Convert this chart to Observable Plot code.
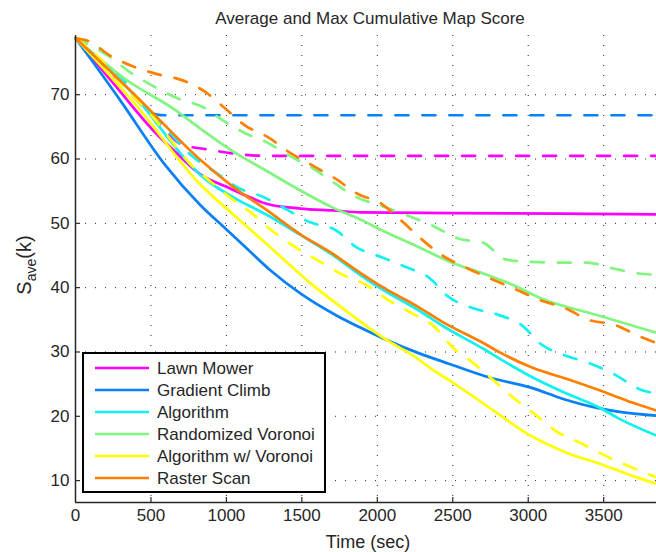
<!DOCTYPE html>
<html><head><meta charset="utf-8">
<script src="https://cdn.jsdelivr.net/npm/d3@7"></script>
<script src="https://cdn.jsdelivr.net/npm/@observablehq/plot@0.6"></script>
<style>
body{margin:0;background:#fff;}
#chart svg{display:block;}
</style></head><body><div id="chart"></div>
<script>
const chartTitle = "Average and Max Cumulative Map Score";
const xLabel = "Time (sec)";
const seriesNames = ["Lawn Mower", "Gradient Climb", "Algorithm", "Randomized Voronoi", "Algorithm w/ Voronoi", "Raster Scan"];
const seriesColors = ["#ff00ff", "#0a80f5", "#12f0f0", "#80f580", "#ffff00", "#ff8000"];
const xTicks = [0, 500, 1000, 1500, 2000, 2500, 3000, 3500];
const yTicks = [10, 20, 30, 40, 50, 60, 70];

// Lawn Mower
const lawnAvgT = [0, 250, 517, 675, 828, 1007, 1159, 1272, 1490, 1709, 1887, 2500, 3200, 3850];
const lawnAvgV = [78.8, 71.8, 64.4, 60.8, 57.6, 55.6, 54.0, 53.0, 52.3, 52.0, 51.7, 51.6, 51.5, 51.4];
const lawnMaxT = [0, 150, 320, 450, 630, 700, 870, 1070, 1250, 3850];
const lawnMaxV = [78.8, 75.2, 71.5, 68.5, 63.6, 62.3, 61.5, 60.8, 60.5, 60.5];
// Gradient Climb
const gradAvgT = [0, 300, 596, 828, 1007, 1139, 1291, 1490, 1735, 1887, 2040, 2265, 2483, 2748, 3013, 3232, 3457, 3629, 3850];
const gradAvgV = [78.8, 69.0, 59.0, 52.8, 48.9, 46.0, 42.7, 39.1, 35.6, 33.8, 32.1, 29.9, 28.1, 26.0, 24.5, 22.7, 21.3, 20.6, 20.1];
const gradMaxT = [0, 270, 540, 600, 3850];
const gradMaxV = [78.8, 72.8, 66.9, 66.8, 66.8];
// Algorithm
const algAvgT = [0, 400, 728, 828, 1049, 1270, 1490, 1709, 1843, 2040, 2265, 2437, 2702, 2815, 3033, 3258, 3477, 3589, 3850];
const algAvgV = [78.8, 69.6, 60.0, 57.5, 54.0, 51.3, 48.2, 45.0, 42.7, 39.6, 36.6, 34.0, 30.5, 28.9, 26.0, 23.5, 21.3, 19.8, 17.0];
const algMaxT = [0, 170, 330, 430, 550, 780, 935, 1080, 1245, 1395, 1550, 1720, 1860, 2020, 2190, 2345, 2470, 2635, 2800, 2960, 3085, 3230, 3410, 3580, 3730, 3850];
const algMaxV = [78.8, 75.4, 72.0, 68.8, 66.0, 60.3, 57.8, 55.5, 54.1, 52.2, 50.2, 49.0, 46.3, 44.8, 43.2, 41.5, 38.6, 36.8, 35.8, 34.1, 31.2, 29.6, 28.2, 26.4, 24.3, 23.5];
// Randomized Voronoi
const rvAvgT = [0, 331, 662, 828, 1049, 1270, 1490, 1709, 1887, 2040, 2265, 2483, 2702, 2881, 3100, 3477, 3850];
const rvAvgV = [78.8, 72.4, 67.6, 64.7, 61.1, 58.1, 55.1, 52.4, 50.6, 48.8, 46.4, 44.0, 42.2, 40.6, 38.2, 35.6, 33.0];
const rvMaxT = [0, 220, 360, 510, 680, 850, 970, 1125, 1275, 1410, 1570, 1720, 1860, 2040, 2200, 2370, 2540, 2700, 2850, 3010, 3200, 3390, 3560, 3730, 3850];
const rvMaxV = [78.8, 76.0, 73.5, 71.4, 69.4, 68.0, 66.1, 64.0, 62.5, 60.6, 58.6, 56.2, 54.1, 52.6, 51.2, 49.6, 47.6, 47.0, 44.4, 44.0, 43.9, 43.9, 43.0, 42.2, 42.0];
// Algorithm w/ Voronoi
const avAvgT = [0, 400, 828, 1049, 1270, 1402, 1556, 1821, 2040, 2265, 2351, 2483, 2770, 2993, 3258, 3477, 3695, 3850];
const avAvgV = [78.8, 68.4, 56.0, 51.3, 46.7, 43.9, 40.7, 35.9, 32.2, 29.0, 27.5, 25.5, 20.9, 17.3, 14.3, 12.6, 10.7, 9.5];
const avMaxT = [0, 170, 300, 550, 630, 750, 900, 1026, 1166, 1305, 1450, 1609, 1770, 1920, 2070, 2230, 2380, 2500, 2630, 2770, 2900, 3040, 3190, 3350, 3500, 3660, 3850];
const avMaxV = [78.8, 75.4, 71.8, 65.5, 63.0, 59.5, 56.4, 54.0, 51.6, 48.8, 46.4, 44.2, 42.0, 40.5, 38.1, 36.0, 33.9, 30.7, 28.4, 25.6, 22.9, 20.4, 17.6, 15.8, 14.0, 12.3, 10.5];
// Raster Scan
const rsAvgT = [0, 400, 840, 1049, 1270, 1490, 1709, 1843, 2040, 2265, 2437, 2702, 2815, 3033, 3258, 3477, 3695, 3850];
const rsAvgV = [78.8, 69.8, 59.6, 55.6, 52.0, 48.3, 45.2, 43.0, 40.0, 37.1, 34.6, 31.4, 29.9, 27.5, 25.8, 24.0, 22.1, 20.9];
const rsMaxT = [0, 100, 220, 370, 540, 700, 855, 985, 1125, 1275, 1420, 1570, 1725, 1860, 2030, 2160, 2290, 2430, 2580, 2740, 2910, 3085, 3245, 3400, 3575, 3740, 3850];
const rsMaxV = [78.8, 78.2, 76.2, 74.5, 73.2, 72.3, 70.5, 68.0, 65.2, 63.4, 61.0, 59.0, 56.9, 54.7, 53.0, 50.4, 47.6, 45.0, 43.2, 41.5, 39.8, 38.0, 36.8, 35.0, 34.2, 32.4, 31.4];

const seriesData = [
  [lawnAvgT, lawnAvgV, lawnMaxT, lawnMaxV],
  [gradAvgT, gradAvgV, gradMaxT, gradMaxV],
  [algAvgT, algAvgV, algMaxT, algMaxV],
  [rvAvgT, rvAvgV, rvMaxT, rvMaxV],
  [avAvgT, avAvgV, avMaxT, avMaxV],
  [rsAvgT, rsAvgV, rsMaxT, rsMaxV]
];

const toRows = (name, T, V) => T.map((t, i) => ({name, t, v: V[i]}));

const ink = "#262626";
const fontStack = "'Liberation Sans', Arial, Helvetica, sans-serif";
const lineMarks = [];
seriesNames.forEach((name, i) => {
  const [aT, aV, mT, mV] = seriesData[i];
  lineMarks.push(Plot.line(toRows(name, aT, aV), {x: "t", y: "v", stroke: "name", strokeWidth: 2.7, curve: "monotone-x"}));
  lineMarks.push(Plot.line(toRows(name, mT, mV), {x: "t", y: "v", stroke: "name", strokeWidth: 2.7, strokeDasharray: "13,14", curve: "monotone-x"}));
});

const yMin = 6.6, yMax = 79.2, xMax = 3850;

const plot = Plot.plot({
  width: 656,
  height: 552,
  marginLeft: 75,
  marginRight: 0,
  marginTop: 35,
  marginBottom: 50,
  style: {fontFamily: fontStack, background: "#fff", color: ink},
  x: {domain: [0, xMax]},
  y: {domain: [yMin, yMax]},
  color: {domain: seriesNames, range: seriesColors},
  marks: [
    Plot.gridX(xTicks.filter(d => d > 0), {stroke: ink, strokeOpacity: 1, strokeDasharray: "1,9"}),
    Plot.gridY(yTicks, {stroke: ink, strokeOpacity: 1, strokeDasharray: "1,9"}),
    ...lineMarks,
    Plot.ruleX([0], {stroke: ink, strokeWidth: 1.5}),
    Plot.ruleY([yMin], {stroke: ink, strokeWidth: 1.5}),
    // inward tick marks
    Plot.axisX(xTicks.filter(d => d > 0), {tickSize: 5, dy: -5, tickFormat: () => "", label: null, stroke: ink, strokeWidth: 1.2}),
    Plot.axisY(yTicks, {tickSize: 5, dx: 5, tickFormat: () => "", label: null, stroke: ink, strokeWidth: 1.2}),
    // tick labels
    Plot.axisX(xTicks, {tickSize: 0, tickPadding: 6, tickFormat: d => String(d), label: null, fontSize: 17, fill: ink}),
    Plot.axisY(yTicks, {tickSize: 0, tickPadding: 6, tickFormat: d => String(d), label: null, fontSize: 17, fill: ink}),
    Plot.text([chartTitle], {text: d => d, frameAnchor: "top", lineAnchor: "middle", dy: -17, dx: 4, fontSize: 17, fill: ink}),
    Plot.text([xLabel], {text: d => d, frameAnchor: "bottom", lineAnchor: "middle", dy: 40, dx: 2, fontSize: 18, fill: ink})
  ]
});

document.getElementById("chart").appendChild(plot);

// y-axis label with subscript
const svg = d3.select(plot);
const yl = svg.append("text")
  .attr("transform", "translate(31,265) rotate(-90)")
  .attr("text-anchor", "middle")
  .attr("fill", ink)
  .attr("font-family", fontStack);
yl.append("tspan").attr("font-size", 20).text("S");
yl.append("tspan").attr("font-size", 14).attr("dy", 5).text("ave");
yl.append("tspan").attr("font-size", 20).attr("dy", -5).text("(k)");

// legend
const lg = svg.append("g").attr("font-family", fontStack).attr("text-anchor", "start");
lg.append("rect").attr("x", 83).attr("y", 353).attr("width", 242).attr("height", 139)
  .attr("fill", "#fff").attr("stroke", "#000").attr("stroke-width", 2);
seriesNames.forEach((n, i) => {
  const y = 368 + i * 22;
  lg.append("line").attr("x1", 95).attr("x2", 149).attr("y1", y).attr("y2", y)
    .attr("stroke", seriesColors[i]).attr("stroke-width", 2.6);
  lg.append("text").attr("x", 157).attr("y", y).attr("dy", "0.35em")
    .attr("text-anchor", "start")
    .attr("font-size", 17).attr("fill", ink).text(n);
});
</script>
</body></html>
